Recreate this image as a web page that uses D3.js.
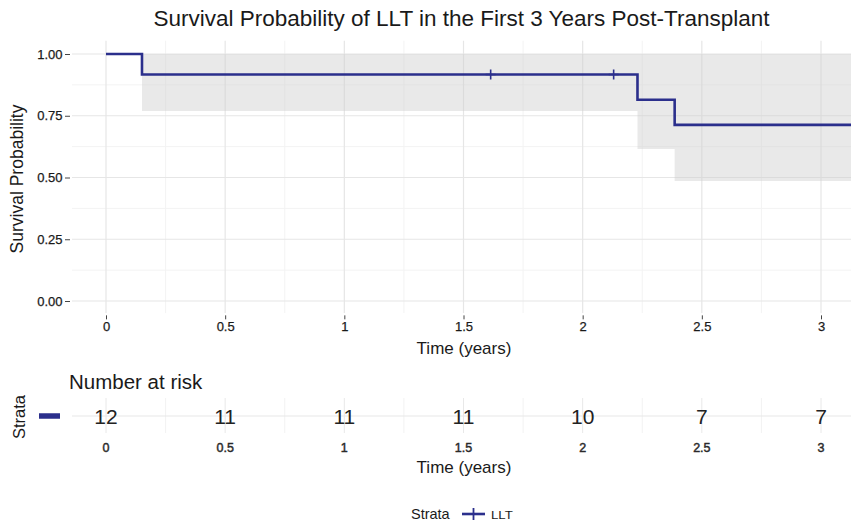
<!DOCTYPE html>
<html><head><meta charset="utf-8">
<script src="https://cdn.jsdelivr.net/npm/d3@7"></script>
<style>body{margin:0;background:#fff}svg{display:block;font-family:"Liberation Sans",Arial,sans-serif}</style>
</head><body>
<svg id="c" width="851" height="523"></svg>
<script>
// ---- data ----
const stepTimes = [0, 0.151, 2.23, 2.386];
const stepSurv  = [1, 0.917, 0.815, 0.713];
const ciLower   = [1, 0.769, 0.615, 0.486];
const ciUpper   = [1, 1, 1, 1];
const endTime = 3.2;
const censorTimes = [1.614, 2.13];
const censorSurv  = [0.917, 0.917];
const xTicks = [0, 0.5, 1, 1.5, 2, 2.5, 3];
const xTickLabels = ["0", "0.5", "1", "1.5", "2", "2.5", "3"];
const yTicks = [0, 0.25, 0.5, 0.75, 1];
const yTickLabels = ["0.00", "0.25", "0.50", "0.75", "1.00"];
const riskTimes  = [0, 0.5, 1, 1.5, 2, 2.5, 3];
const riskCounts = [12, 11, 11, 11, 10, 7, 7];
const strata = ["LLT"];

const col = "#2b2f8c";
const txt = "#1a1a1a";
const svg = d3.select("#c");
const panelL = 72, panelR = 851;
const x = d3.scaleLinear().domain([0, 3]).range([106, 821]);
const y = d3.scaleLinear().domain([0, 1]).range([301, 54]);
const pT = y(1.055), pB = y(-0.05);

svg.append("defs").append("clipPath").attr("id","pc").append("rect")
  .attr("x", panelL).attr("y", pT).attr("width", panelR - panelL).attr("height", pB - pT);

// main grid
const g = svg.append("g").attr("clip-path","url(#pc)");
const xMinor = d3.range(-0.25, 3.3, 0.5);
const yMinor = [0.125, 0.375, 0.625, 0.875];
g.selectAll(".xm").data(xMinor).join("line").attr("x1", d=>x(d)).attr("x2", d=>x(d))
  .attr("y1", pT).attr("y2", pB).attr("stroke", "#f3f3f3").attr("stroke-width", 1);
g.selectAll(".ym").data(yMinor).join("line").attr("y1", d=>y(d)).attr("y2", d=>y(d))
  .attr("x1", panelL).attr("x2", panelR).attr("stroke", "#f3f3f3").attr("stroke-width", 1);
g.selectAll(".xM").data(xTicks).join("line").attr("x1", d=>x(d)).attr("x2", d=>x(d))
  .attr("y1", pT).attr("y2", pB).attr("stroke", "#e6e6e6").attr("stroke-width", 1.2);
g.selectAll(".yM").data(yTicks).join("line").attr("y1", d=>y(d)).attr("y2", d=>y(d))
  .attr("x1", panelL).attr("x2", panelR).attr("stroke", "#e6e6e6").attr("stroke-width", 1.2);

// CI ribbon (step)
const ciPts = [];
stepTimes.forEach((t,i)=>{
  const t2 = i < stepTimes.length-1 ? stepTimes[i+1] : endTime;
  ciPts.push({t:t, lo:ciLower[i], hi:ciUpper[i]});
  ciPts.push({t:t2, lo:ciLower[i], hi:ciUpper[i]});
});
g.append("path").datum(ciPts)
  .attr("d", d3.area().x(d=>x(d.t)).y0(d=>y(d.lo)).y1(d=>y(d.hi)))
  .attr("fill", "#cfcfcf").attr("fill-opacity", 0.45);

// survival step line
const linePts = stepTimes.map((t,i)=>({t, s:stepSurv[i]})).concat([{t:endTime, s:stepSurv[stepSurv.length-1]}]);
g.append("path").datum(linePts)
  .attr("d", d3.line().x(d=>x(d.t)).y(d=>y(d.s)).curve(d3.curveStepAfter))
  .attr("fill","none").attr("stroke", col).attr("stroke-width", 2.6);

// censor marks
censorTimes.forEach((t,i)=>{
  const cx = x(t), cy = y(censorSurv[i]);
  g.append("line").attr("x1",cx-5).attr("x2",cx+5).attr("y1",cy).attr("y2",cy).attr("stroke",col).attr("stroke-width",1.6);
  g.append("line").attr("x1",cx).attr("x2",cx).attr("y1",cy-5).attr("y2",cy+5).attr("stroke",col).attr("stroke-width",1.6);
});

// axes
const yAxis = svg.append("g").attr("transform", `translate(${panelL-2},0)`)
  .call(d3.axisLeft(y).tickValues(yTicks).tickFormat((d,i)=>yTickLabels[i]).tickSize(5).tickPadding(2.5));
yAxis.select(".domain").remove();
yAxis.selectAll("line").attr("stroke","#444");
yAxis.selectAll("text").attr("font-size", 13).attr("fill",txt).attr("stroke",txt).attr("stroke-width",0.25)
  .attr("font-family","Liberation Sans, Arial, sans-serif");

const xAxis = svg.append("g").attr("transform", `translate(0,${pB+2})`)
  .call(d3.axisBottom(x).tickValues(xTicks).tickFormat((d,i)=>xTickLabels[i]).tickSize(4).tickPadding(2.5));
xAxis.select(".domain").remove();
xAxis.selectAll("line").attr("stroke","#444");
xAxis.selectAll("text").attr("font-size", 13).attr("fill",txt).attr("stroke",txt).attr("stroke-width",0.25)
  .attr("font-family","Liberation Sans, Arial, sans-serif");

svg.append("text").attr("x", 461.5).attr("y", 26).attr("text-anchor","middle")
  .attr("font-size", 22.5).attr("fill",txt).text("Survival Probability of LLT in the First 3 Years Post-Transplant");
svg.append("text").attr("transform","translate(23,179) rotate(-90)").attr("text-anchor","middle")
  .attr("font-size", 17.5).attr("fill",txt).text("Survival Probability");
svg.append("text").attr("x", 464).attr("y", 354).attr("text-anchor","middle")
  .attr("font-size", 17).attr("fill",txt).text("Time (years)");

// ---- risk table ----
const rowY = 416, rT = 398, rB = 433;
const rt = svg.append("g");
rt.selectAll(".rv").data(d3.range(0, 3.01, 0.25)).join("line")
  .attr("x1", d=>x(d)).attr("x2", d=>x(d)).attr("y1", rT).attr("y2", rB)
  .attr("stroke", d => (Math.round(d*4)%2===0) ? "#e8e8e8" : "#f2f2f2").attr("stroke-width", 1);
rt.append("line").attr("x1", panelL).attr("x2", panelR).attr("y1", rowY).attr("y2", rowY)
  .attr("stroke", "#e8e8e8").attr("stroke-width", 1.2);
rt.selectAll(".rc").data(riskTimes).join("text")
  .attr("x", d=>x(d)).attr("y", rowY+8)
  .attr("text-anchor","middle").attr("font-size", 21).attr("fill","#222")
  .text((d,i)=>riskCounts[i]);
rt.selectAll(".rl").data(xTicks).join("text")
  .attr("x", d=>x(d)).attr("y", 452)
  .attr("text-anchor","middle").attr("font-size", 12.5).attr("fill","#2a2a2a")
  .attr("stroke","#2a2a2a").attr("stroke-width",0.45)
  .text((d,i)=>xTickLabels[i]);
svg.append("text").attr("x", 464).attr("y", 473).attr("text-anchor","middle")
  .attr("font-size", 17).attr("fill",txt).text("Time (years)");
svg.append("text").attr("x", 69).attr("y", 389).attr("font-size", 20.5).attr("fill",txt).text("Number at risk");
svg.append("text").attr("transform","translate(25,417) rotate(-90)").attr("text-anchor","middle")
  .attr("font-size", 16.5).attr("fill",txt).text("Strata");
rt.append("line").attr("x1", 39).attr("x2", 60).attr("y1", rowY).attr("y2", rowY)
  .attr("stroke", col).attr("stroke-width", 5.5);

// legend
const lg = svg.append("g").attr("transform","translate(0,519)");
lg.append("text").attr("x", 411).attr("font-size", 14.5).attr("fill",txt).text("Strata");
lg.append("line").attr("x1", 462).attr("x2", 485).attr("y1", -5).attr("y2", -5).attr("stroke", col).attr("stroke-width", 2.6);
lg.append("line").attr("x1", 473.5).attr("x2", 473.5).attr("y1", -11).attr("y2", 1).attr("stroke", col).attr("stroke-width", 1.8);
lg.append("text").attr("transform","translate(491,0) scale(1.15,1)").attr("font-size", 11.5).attr("fill",txt).text(strata[0]);
</script>
</body></html>
